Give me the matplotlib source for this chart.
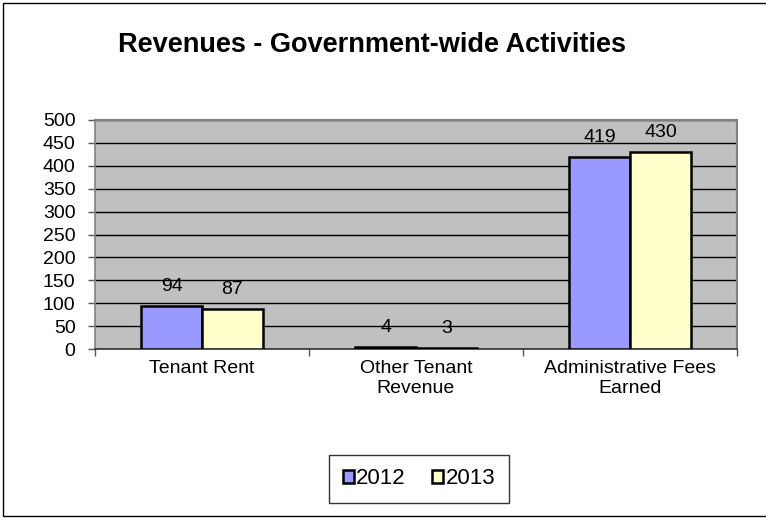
import matplotlib
matplotlib.use("Agg")
import matplotlib.pyplot as plt
from matplotlib.patches import Rectangle
import numpy as np

categories = ["Tenant Rent", "Other Tenant\nRevenue", "Administrative Fees\nEarned"]
series_names = ["2012", "2013"]
values_2012 = [94, 4, 419]
values_2013 = [87, 3, 430]
y_ticks = [0, 50, 100, 150, 200, 250, 300, 350, 400, 450, 500]

plt.rcParams["font.family"] = ["Liberation Sans", "DejaVu Sans"]

W, H = 766, 518
fig = plt.figure(figsize=(W / 100, H / 100), dpi=100)
fig.patch.set_facecolor("white")

# outer chart frame
fig.patches.append(Rectangle((3 / W, 1 - 516 / H), (W + 5 - 3) / W, (516 - 3) / H,
                             transform=fig.transFigure, fill=False,
                             edgecolor="black", linewidth=1.0))

left, right, top, bottom = 95, 737, 120, 349
ax = fig.add_axes([left / W, 1 - bottom / H, (right - left) / W, (bottom - top) / H])
ax.set_facecolor("#C0C0C0")

fs = 14
x = np.arange(len(categories))
bw = 0.285
colors = ["#9999FF", "#FFFFCC"]
for i, (vals, c) in enumerate(zip([values_2012, values_2013], colors)):
    pos = x + (i - 0.5) * bw
    bars = ax.bar(pos, vals, width=bw, color=c, edgecolor="black", linewidth=1.8,
                  label=series_names[i], zorder=3)
    for b, v in zip(bars, vals):
        ax.annotate(str(v), (b.get_x() + b.get_width() / 2, v), xytext=(0, 8),
                    textcoords="offset points", ha="center", va="bottom",
                    fontsize=fs, zorder=4)

ax.set_xlim(-0.5, len(categories) - 0.5)
ax.set_ylim(0, 500)
ax.set_yticks(y_ticks)
ax.set_yticklabels([str(t) for t in y_ticks], fontsize=fs)
ax.yaxis.grid(True, color="black", linewidth=1.0, zorder=1)
ax.set_axisbelow(True)

ax.set_xticks(x)
ax.set_xticklabels(categories, fontsize=fs, linespacing=1.2)
ax.tick_params(axis="x", which="major", length=0, pad=8)
ax.set_xticks(np.arange(-0.5, len(categories)), minor=True)
ax.tick_params(axis="x", which="minor", length=5, width=1, color="#555555", direction="out")
ax.tick_params(axis="y", length=5, width=1, color="#555555", pad=9)

for s in ["top", "right"]:
    ax.spines[s].set_color("#808080")
    ax.spines[s].set_linewidth(1.5)
ax.spines["left"].set_color("#808080")
ax.spines["left"].set_linewidth(1.2)
ax.spines["bottom"].set_color("#333333")
ax.spines["bottom"].set_linewidth(1.2)

fig.text(372 / W, 1 - 45 / H, "Revenues - Government-wide Activities",
         ha="center", va="center", fontsize=19.5, fontweight="bold")

leg = ax.legend(loc="center", bbox_to_anchor=(419 / W, 1 - 479 / H),
                bbox_transform=fig.transFigure, ncol=2, fontsize=16,
                frameon=True, fancybox=False, edgecolor="black",
                handlelength=0.5, handleheight=0.5, handletextpad=0.1,
                columnspacing=1.2, borderpad=0.6, borderaxespad=0)
leg.get_frame().set_linewidth(1.0)
for h in leg.legend_handles:
    h.set_linewidth(1.8)

fig.savefig("out.png", dpi=100, facecolor="white")
